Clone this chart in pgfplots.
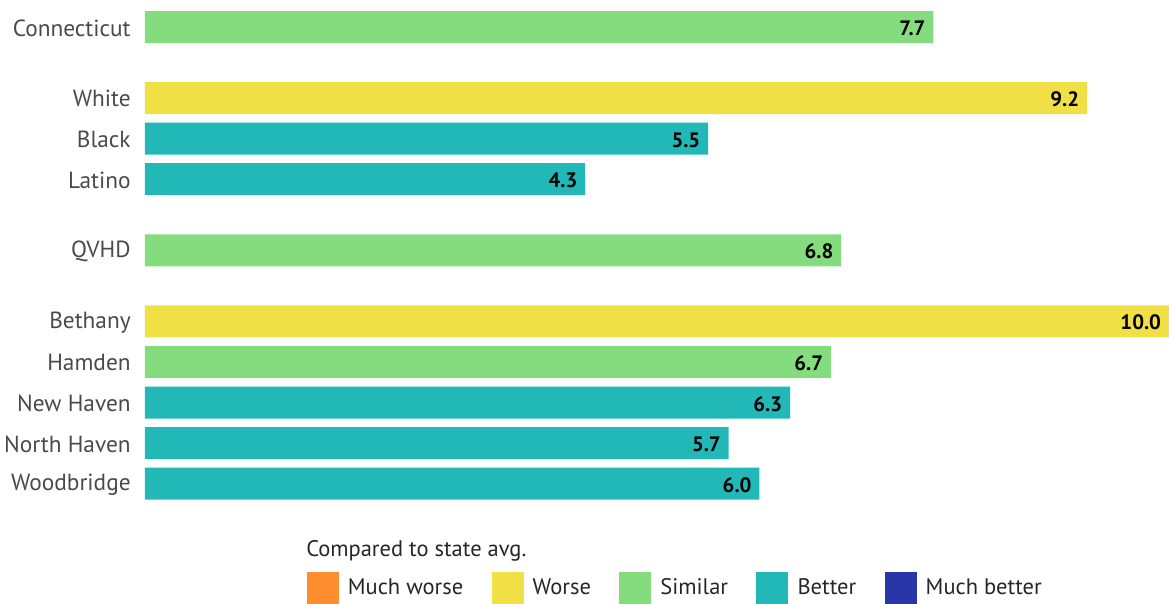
\documentclass[border=0pt]{standalone}
\usepackage{pgfplots}
\pgfplotsset{compat=1.18}
\usepackage{fontspec}
\setmainfont{PT Sans}
\definecolor{cworse}{HTML}{F0E046}
\definecolor{csim}{HTML}{84DC7E}
\definecolor{cbetter}{HTML}{22B8B8}
\definecolor{cmworse}{HTML}{FD8D2E}
\definecolor{cmbetter}{HTML}{2A35A7}
\definecolor{labgray}{HTML}{4A4A4A}
\begin{document}
\begin{tikzpicture}
\begin{axis}[
  x=61.44pt, y=24.36pt,
  xmin=0, xmax=10, ymin=-0.665, ymax=14.138,
  y dir=reverse,
  xbar, bar width=19.2pt, bar shift=0pt,
  axis line style={draw=none},
  major tick length=0pt,
  xtick=\empty,
  ytick={0,1.75,2.75,3.75,5.5,7.25,8.25,9.25,10.25,11.25},
  yticklabels={Connecticut,White,Black,Latino,QVHD,Bethany,Hamden,New Haven,North Haven,Woodbridge},
  yticklabel style={font=\fontsize{14}{16}\selectfont, text=labgray, inner sep=0pt, anchor=east, xshift=-8.4pt, yshift=-0.5pt},
  clip=false,
  nodes near coords,
  point meta=x,
  nodes near coords style={font=\bfseries\fontsize{12.5}{14}\selectfont, text=black, anchor=east, inner sep=0pt, xshift=-4.5pt, yshift=-0.8pt, /pgf/number format/.cd, fixed, precision=1, zerofill, assume math mode=true},
  legend style={at={(axis description cs:0.158,0.0216)}, anchor=west, draw=none, fill=none, inner sep=0pt, outer sep=0pt,
    legend columns=5,
    nodes={inner sep=0pt, font=\fontsize{13.5}{15}\selectfont, text=black!85},
    /tikz/every odd column/.append style={column sep=5.5pt},
    /tikz/every even column/.append style={column sep=17pt}},
  legend cell align=left,
  legend image code/.code={\fill[#1, draw=none] (0pt,-9.6pt) rectangle (19.2pt,9.6pt);},
]
\addplot[fill=csim, draw=none, forget plot] coordinates {(7.7,0) (6.8,5.5) (6.7,8.25)};
\addplot[fill=cworse, draw=none, forget plot] coordinates {(9.2,1.75) (10.0,7.25)};
\addplot[fill=cbetter, draw=none, forget plot] coordinates {(5.5,2.75) (4.3,3.75) (6.3,9.25) (5.7,10.25) (6.0,11.25)};
\addlegendimage{fill=cmworse, draw=none}\addlegendentry{Much worse}
\addlegendimage{fill=cworse, draw=none}\addlegendentry{Worse}
\addlegendimage{fill=csim, draw=none}\addlegendentry{Similar}
\addlegendimage{fill=cbetter, draw=none}\addlegendentry{Better}
\addlegendimage{fill=cmbetter, draw=none}\addlegendentry{Much better}
\node[anchor=west, inner sep=0pt, font=\fontsize{13.5}{15}\selectfont, text=black!85] at (axis cs:1.572,12.906) {Compared to state avg.};
\path (axis cs:-1.416,-0.665) (axis cs:10,14.138);
\end{axis}
\end{tikzpicture}
\end{document}
